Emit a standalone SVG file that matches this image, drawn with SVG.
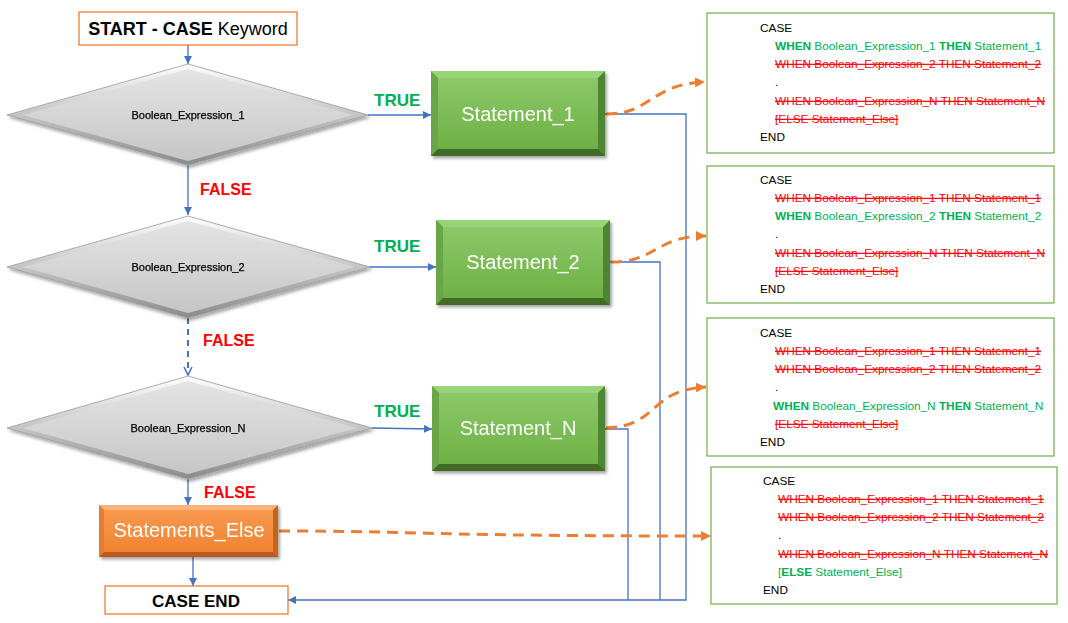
<svg xmlns="http://www.w3.org/2000/svg" width="1068" height="623" viewBox="0 0 1068 623">
<defs>
<style>
.t{font-family:"Liberation Sans",Arial,sans-serif}
.blue{fill:none;stroke:#4472C4;stroke-width:1.3}
.orng{fill:none;stroke:#ED7D31;stroke-width:3;stroke-dasharray:11 7}
.lbl{font-family:"Liberation Sans",Arial,sans-serif;font-weight:bold}
.tr{fill:#00B050;font-size:17px}
.fl{fill:#FF0000;font-size:16px}
.dt{font-family:"Liberation Sans",Arial,sans-serif;font-size:11px;fill:#000;stroke:#000;stroke-width:0.25}
.st{font-family:"Liberation Sans",Arial,sans-serif;font-size:20px;fill:#fff}
.code{font-family:"Liberation Sans",Arial,sans-serif;font-size:11.8px}
.k{fill:#000}
.g{fill:#00B050}
.r{fill:#FF0000;text-decoration:line-through}
.b{font-weight:bold}
.box{fill:#fff;stroke:#70AD47;stroke-width:1.2}
</style>
<marker id="ab" viewBox="0 0 10 10" refX="10" refY="5" markerWidth="8" markerHeight="8" markerUnits="userSpaceOnUse" orient="auto"><path d="M0,0 L10,5 L0,10 z" fill="#4472C4"/></marker>
<marker id="av" viewBox="0 0 10 10" refX="9" refY="5" markerWidth="10" markerHeight="10" markerUnits="userSpaceOnUse" orient="auto"><path d="M1,1 L9,5 L1,9" fill="none" stroke="#4472C4" stroke-width="1.6"/></marker>
<marker id="ao" viewBox="0 0 10 10" refX="10" refY="5" markerWidth="10" markerHeight="10" markerUnits="userSpaceOnUse" orient="auto"><path d="M0,0 L10,5 L0,10 z" fill="#ED7D31"/></marker>
<linearGradient id="dOut" x1="0" y1="0" x2="0" y2="1"><stop offset="0" stop-color="#ffffff"/><stop offset="1" stop-color="#8a8a8a"/></linearGradient>
<linearGradient id="dIn" x1="0" y1="0" x2="0" y2="1"><stop offset="0" stop-color="#e4e4e4"/><stop offset="1" stop-color="#c6c6c6"/></linearGradient>
<linearGradient id="gFace" x1="0" y1="0" x2="0" y2="1"><stop offset="0" stop-color="#8ECB6B"/><stop offset="1" stop-color="#6BAE42"/></linearGradient>
<linearGradient id="oFace" x1="0" y1="0" x2="0" y2="1"><stop offset="0" stop-color="#F99B52"/><stop offset="1" stop-color="#F0822E"/></linearGradient>
<filter id="sh" x="-10%" y="-10%" width="125%" height="130%"><feDropShadow dx="2" dy="2.5" stdDeviation="1.5" flood-color="#000" flood-opacity="0.35"/></filter>
</defs>
<rect width="1068" height="623" fill="#fff"/>

<g id="connectors">
<path class="blue" d="M188,45 L188,64" marker-end="url(#ab)"/>
<path class="blue" d="M188,165 L188,215" marker-end="url(#ab)"/>
<path d="M188,318 L188,375" fill="none" stroke="#4472C4" stroke-width="2" stroke-dasharray="6 5" marker-end="url(#av)"/>
<path class="blue" d="M188,479 L188,505" marker-end="url(#ab)"/>
<path class="blue" d="M193,557 L193,586" marker-end="url(#ab)"/>
<path class="blue" d="M368,115 L431,115" marker-end="url(#ab)"/>
<path class="blue" d="M370,267 L436,267" marker-end="url(#ab)"/>
<path class="blue" d="M372,428 L432,429" marker-end="url(#ab)"/>
<path class="blue" d="M605,114 L686,114 L686,600 L288,600" marker-end="url(#ab)"/>
<path class="blue" d="M610,262 L660,262 L660,600"/>
<path class="blue" d="M605,429 L628,429 L628,600"/>
<path class="orng" d="M606,114 C652,114 650,84 705,82" marker-end="url(#ao)"/>
<path class="orng" d="M611,262 C657,262 655,236 706,236" marker-end="url(#ao)"/>
<path class="orng" d="M606,428 C660,426 648,390 706,387" marker-end="url(#ao)"/>
<path class="orng" d="M279,531 C420,531 420,536 711,536" marker-end="url(#ao)"/>
<text class="lbl tr" x="374" y="106">TRUE</text>
<text class="lbl tr" x="374" y="252">TRUE</text>
<text class="lbl tr" x="374" y="417">TRUE</text>
<text class="lbl fl" x="200" y="195">FALSE</text>
<text class="lbl fl" x="203" y="346">FALSE</text>
<text class="lbl fl" x="204" y="498">FALSE</text>
</g>

<g id="start">
<rect x="79" y="12" width="218" height="33" fill="#fff" stroke="#ED7D31" stroke-width="1.3"/>
<text class="t" x="188" y="35" font-size="18" text-anchor="middle"><tspan font-weight="bold">START - CASE</tspan> Keyword</text>
</g>

<g id="cond1" filter="url(#sh)">
<polygon points="188,64 368,115 188,165 7,115" fill="url(#dOut)" stroke="#9a9a9a" stroke-width="0.8"/>
<polygon points="188,69 353,115 188,161 23,115" fill="url(#dIn)"/>
<text class="dt" x="188" y="119" text-anchor="middle">Boolean_Expression_1</text>
</g>

<g id="cond2" filter="url(#sh)">
<polygon points="188,216 370,267 188,318 7,267" fill="url(#dOut)" stroke="#9a9a9a" stroke-width="0.8"/>
<polygon points="188,221 355,267 188,313 23,267" fill="url(#dIn)"/>
<text class="dt" x="188" y="271" text-anchor="middle">Boolean_Expression_2</text>
</g>

<g id="condN" filter="url(#sh)">
<polygon points="188,376 372,428 188,479 7,428" fill="url(#dOut)" stroke="#9a9a9a" stroke-width="0.8"/>
<polygon points="188,381 357,428 188,474 23,428" fill="url(#dIn)"/>
<text class="dt" x="188" y="432" text-anchor="middle">Boolean_Expression_N</text>
</g>

<g id="stmt1" filter="url(#sh)">
<rect x="431" y="71" width="174" height="85" fill="url(#gFace)"/>
<polygon points="431,71 605,71 598,78 438,78" fill="#9AD478"/>
<polygon points="431,71 438,78 438,149 431,156" fill="#6AA646"/>
<polygon points="605,71 605,156 598,149 598,78" fill="#4E8530"/>
<polygon points="431,156 438,149 598,149 605,156" fill="#3F6A26"/>
<text class="st" x="518" y="121" text-anchor="middle">Statement_1</text>
</g>

<g id="stmt2" filter="url(#sh)">
<rect x="436" y="220" width="174" height="85" fill="url(#gFace)"/>
<polygon points="436,220 610,220 603,227 443,227" fill="#9AD478"/>
<polygon points="436,220 443,227 443,298 436,305" fill="#6AA646"/>
<polygon points="610,220 610,305 603,298 603,227" fill="#4E8530"/>
<polygon points="436,305 443,298 603,298 610,305" fill="#3F6A26"/>
<text class="st" x="523" y="269" text-anchor="middle">Statement_2</text>
</g>

<g id="stmtN" filter="url(#sh)">
<rect x="432" y="386" width="173" height="85" fill="url(#gFace)"/>
<polygon points="432,386 605,386 598,393 439,393" fill="#9AD478"/>
<polygon points="432,386 439,393 439,464 432,471" fill="#6AA646"/>
<polygon points="605,386 605,471 598,464 598,393" fill="#4E8530"/>
<polygon points="432,471 439,464 598,464 605,471" fill="#3F6A26"/>
<text class="st" x="518" y="435" text-anchor="middle">Statement_N</text>
</g>

<g id="else" filter="url(#sh)">
<rect x="99" y="505" width="179" height="52" fill="url(#oFace)"/>
<polygon points="99,505 278,505 273,510 104,510" fill="#FBB27C"/>
<polygon points="99,505 104,510 104,552 99,557" fill="#E47C30"/>
<polygon points="278,505 278,557 273,552 273,510" fill="#C8641E"/>
<polygon points="99,557 104,552 273,552 278,557" fill="#B85A1A"/>
<text class="st" x="189" y="537" text-anchor="middle" font-size="17.5">Statements_Else</text>
</g>

<g id="end">
<rect x="105" y="586" width="183" height="28" fill="#fff" stroke="#ED7D31" stroke-width="1.3"/>
<text class="t" x="196" y="607" font-size="17" font-weight="bold" text-anchor="middle">CASE END</text>
</g>

<g id="code1">
<rect class="box" x="707" y="13" width="347" height="140"/>
<text class="code k" x="760" y="32">CASE</text>
<text class="code g" x="775" y="50"><tspan class="b">WHEN</tspan> Boolean_Expression_1 <tspan class="b">THEN</tspan> Statement_1</text>
<text class="code r" x="775" y="68">WHEN Boolean_Expression_2 THEN Statement_2</text>
<text class="code k" x="775" y="86">.</text>
<text class="code r" x="775" y="105">WHEN Boolean_Expression_N THEN Statement_N</text>
<text class="code r" x="775" y="123">[ELSE Statement_Else]</text>
<text class="code k" x="760" y="141">END</text>
</g>

<g id="code2">
<rect class="box" x="707" y="166" width="347" height="137"/>
<text class="code k" x="760" y="184">CASE</text>
<text class="code r" x="775" y="202">WHEN Boolean_Expression_1 THEN Statement_1</text>
<text class="code g" x="775" y="220"><tspan class="b">WHEN</tspan> Boolean_Expression_2 <tspan class="b">THEN</tspan> Statement_2</text>
<text class="code k" x="775" y="238">.</text>
<text class="code r" x="775" y="257">WHEN Boolean_Expression_N THEN Statement_N</text>
<text class="code r" x="775" y="275">[ELSE Statement_Else]</text>
<text class="code k" x="760" y="293">END</text>
</g>

<g id="code3">
<rect class="box" x="707" y="318" width="347" height="138"/>
<text class="code k" x="760" y="337">CASE</text>
<text class="code r" x="775" y="355">WHEN Boolean_Expression_1 THEN Statement_1</text>
<text class="code r" x="775" y="373">WHEN Boolean_Expression_2 THEN Statement_2</text>
<text class="code k" x="775" y="391">.</text>
<text class="code g" x="773" y="410"><tspan class="b">WHEN</tspan> Boolean_Expression_N <tspan class="b">THEN</tspan> Statement_N</text>
<text class="code r" x="775" y="428">[ELSE Statement_Else]</text>
<text class="code k" x="760" y="446">END</text>
</g>

<g id="code4">
<rect class="box" x="711" y="467" width="346" height="137"/>
<text class="code k" x="763" y="485">CASE</text>
<text class="code r" x="778" y="503">WHEN Boolean_Expression_1 THEN Statement_1</text>
<text class="code r" x="778" y="521">WHEN Boolean_Expression_2 THEN Statement_2</text>
<text class="code k" x="778" y="539">.</text>
<text class="code r" x="778" y="558">WHEN Boolean_Expression_N THEN Statement_N</text>
<text class="code g" x="778" y="576">[<tspan class="b">ELSE</tspan> Statement_Else]</text>
<text class="code k" x="763" y="594">END</text>
</g>
</svg>
